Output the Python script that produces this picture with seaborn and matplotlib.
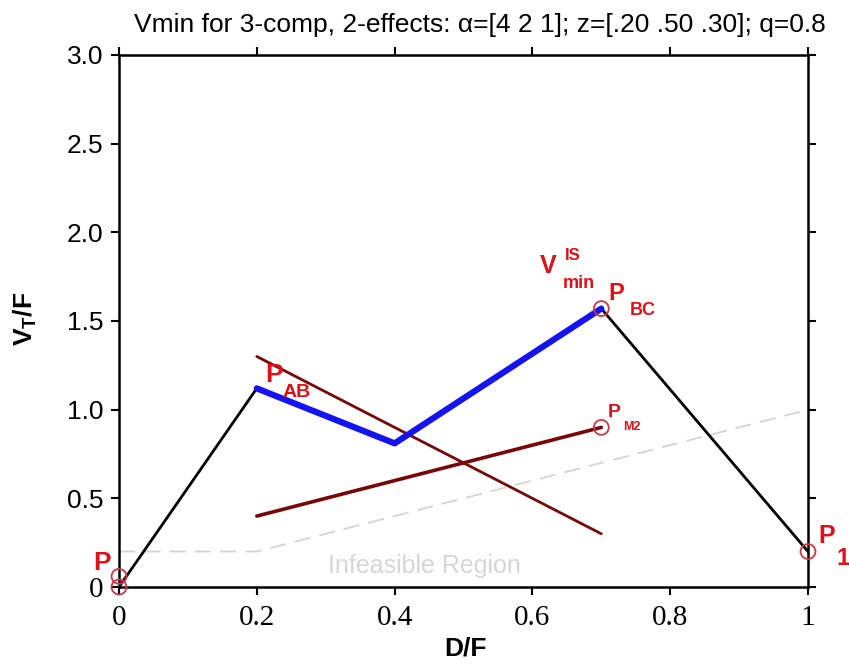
import matplotlib
matplotlib.use("Agg")
import matplotlib.pyplot as plt
import seaborn as sns

sns.set_style("white")
plt.rcParams['font.family'] = ['Liberation Sans', 'DejaVu Sans']
plt.rcParams['text.color'] = 'black'
plt.rcParams['mathtext.fontset'] = 'custom'
plt.rcParams['mathtext.rm'] = 'Liberation Sans'
plt.rcParams['mathtext.bf'] = 'Liberation Sans:bold'
plt.rcParams['mathtext.it'] = 'Liberation Sans:italic'

# Data
black1_x = [0.0, 0.2]
black1_y = [0.0, 1.12]
black2_x = [0.7, 1.0]
black2_y = [1.57, 0.20]
blue_x = [0.2, 0.4, 0.7]
blue_y = [1.12, 0.81, 1.57]
brown1_x = [0.2, 0.7]
brown1_y = [1.30, 0.30]
brown2_x = [0.2, 0.7]
brown2_y = [0.40, 0.90]
gray_x = [0.0, 0.2, 1.0]
gray_y = [0.20, 0.20, 1.00]
circ_x = [0.0, 0.0, 0.7, 0.7, 1.0]
circ_y = [0.0, 0.06, 1.57, 0.90, 0.20]
xticks = [0, 0.2, 0.4, 0.6, 0.8, 1]
xticklabels = ["0", "0.2", "0.4", "0.6", "0.8", "1"]
yticks = [0, 0.5, 1.0, 1.5, 2.0, 2.5, 3.0]
yticklabels = ["0", "0.5", "1.0", "1.5", "2.0", "2.5", "3.0"]

fig = plt.figure(figsize=(8.49, 6.67), dpi=100)
ax = fig.add_axes([119 / 849, 80 / 667, 689 / 849, 532 / 667])

red = "#e01018"
sns.lineplot(x=gray_x, y=gray_y, ax=ax, sort=False, color="#d4d4d4", lw=1.3,
             linestyle=(0, (9, 5)), estimator=None)
sns.lineplot(x=black1_x, y=black1_y, ax=ax, sort=False, color="black", lw=2.0, estimator=None)
sns.lineplot(x=black2_x, y=black2_y, ax=ax, sort=False, color="black", lw=2.0, estimator=None)
sns.lineplot(x=brown1_x, y=brown1_y, ax=ax, sort=False, color="#780808", lw=2.0, estimator=None)
sns.lineplot(x=brown2_x, y=brown2_y, ax=ax, sort=False, color="#780808", lw=2.6, estimator=None)
sns.lineplot(x=blue_x, y=blue_y, ax=ax, sort=False, color="#1414f0", lw=4.5, estimator=None)
sns.scatterplot(x=circ_x, y=circ_y, ax=ax, s=115, facecolor="none",
                edgecolor="#d03548", linewidth=1.3, zorder=5, clip_on=False)

ax.set_xlim(0, 1)
ax.set_ylim(0, 3.0)
ax.set_xticks(xticks)
ax.set_xticklabels(xticklabels, fontfamily="Liberation Serif", fontsize=21)
ax.set_yticks(yticks)
ax.set_yticklabels(yticklabels, fontsize=19)
ax.get_yticklabels()[0].set_fontfamily("Liberation Serif")
ax.get_yticklabels()[0].set_fontsize(21)
ax.tick_params(direction="out", length=6, width=1.5, top=True, right=True,
               bottom=True, left=True, colors="black")
ax.tick_params(axis="x", pad=7)
ax.tick_params(axis="y", pad=5)
for s in ax.spines.values():
    s.set_linewidth(1.8)
    s.set_color("black")
    s.set_visible(True)

fig.text(466 / 849, 1 - 649 / 667, "D/F", fontsize=19, fontweight="bold",
         ha="center", va="center")
fig.text(25 / 849, 1 - 319 / 667, r"V$_\mathbf{T}$/F", fontsize=19, fontweight="bold",
         ha="center", va="center", rotation=90)
fig.text(480 / 849, 1 - 32 / 667,
         "Vmin for 3-comp, 2-effects: α=[4 2 1]; z=[.20 .50 .30]; q=0.8",
         fontsize=19, ha="center", va="baseline")

tk = dict(color=red, fontweight="bold", clip_on=False, va="baseline")
ax.text(-0.038, 0.096, "P", fontsize=19, **tk)
ax.text(0.212, 1.156, "P", fontsize=19, **tk)
ax.text(0.238, 1.072, "AB", fontsize=14, **tk)
ax.text(0.611, 1.771, "V", fontsize=18, **tk)
ax.text(0.647, 1.844, "IS", fontsize=12, **tk)
ax.text(0.644, 1.686, "min", fontsize=13, **tk)
ax.text(0.710, 1.619, "P", fontsize=17, **tk)
ax.text(0.742, 1.534, "BC", fontsize=13, **tk)
ax.text(0.710, 0.959, "P", fontsize=14, **tk)
ax.text(0.731, 0.885, "M2", fontsize=9, **tk)
ax.text(1.0145, 0.248, "P", fontsize=18, **tk)
ax.text(1.042, 0.124, "1", fontsize=17, **tk)
ax.text(0.444, 0.118, "Infeasible Region", fontsize=18, color="#d6d6d6", ha="center",
        va="center")

fig.savefig("out.png", dpi=100)
